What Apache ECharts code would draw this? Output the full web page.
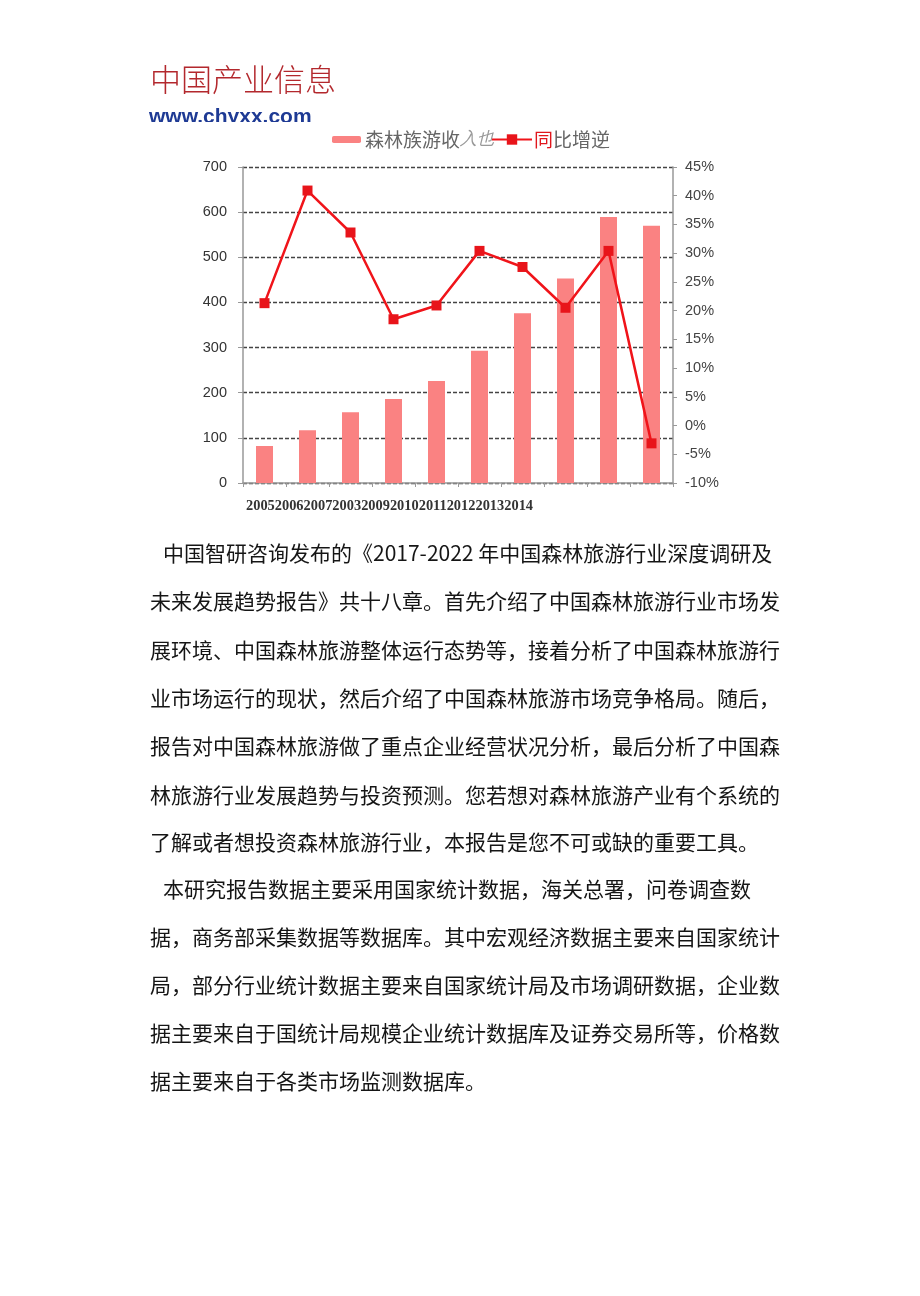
<!DOCTYPE html>
<html>
<head>
<meta charset="utf-8">
<script src="https://cdn.jsdelivr.net/npm/echarts@6/dist/echarts.min.js"></script>
<style>
html,body{margin:0;padding:0;background:#fff;}
#main{width:920px;height:1296px;}
</style>
</head>
<body>
<div id="main"></div>
<script>
// ---- data ----
var years = ['2005','2006','2007','2008','2009','2010','2011','2012','2013','2014'];
var xLabels = ['2005','2006','2007','2003','2009','2010','2011','2012','2013','2014'];
var revenue = [82, 117, 157, 186, 226, 293, 376, 453, 589, 570];
var growth = [21.3, 40.9, 33.6, 18.5, 20.9, 30.4, 27.6, 20.5, 30.4, -3.1];
var leftTicks = {min: 0, max: 700, interval: 100};
var rightTicks = {min: -10, max: 45, interval: 5};
var barName = '森林族游收入也';
var lineName = '同比增逆';
var headerTitle = '中国产业信息';
var headerUrl = 'www.chyxx.com';
var para1 = [
  '中国智研咨询发布的《2017-2022 年中国森林旅游行业深度调研及',
  '未来发展趋势报告》共十八章。首先介绍了中国森林旅游行业市场发',
  '展环境、中国森林旅游整体运行态势等，接着分析了中国森林旅游行',
  '业市场运行的现状，然后介绍了中国森林旅游市场竞争格局。随后，',
  '报告对中国森林旅游做了重点企业经营状况分析，最后分析了中国森',
  '林旅游行业发展趋势与投资预测。您若想对森林旅游产业有个系统的',
  '了解或者想投资森林旅游行业，本报告是您不可或缺的重要工具。'
];
var para2 = [
  '本研究报告数据主要采用国家统计数据，海关总署，问卷调查数',
  '据，商务部采集数据等数据库。其中宏观经济数据主要来自国家统计',
  '局，部分行业统计数据主要来自国家统计局及市场调研数据，企业数',
  '据主要来自于国统计局规模企业统计数据库及证券交易所等，价格数',
  '据主要来自于各类市场监测数据库。'
];

var chart = echarts.init(document.getElementById('main'), null, {renderer: 'canvas'});

var cjk = '"Noto Sans CJK SC", sans-serif';
var graphics = [];
graphics.push({
  type: 'text', left: 150, top: 64, z: 10,
  style: {text: headerTitle, font: '300 31px ' + cjk, fill: '#B3282D'}
});
graphics.push({
  type: 'text', x: 149, y: 107, z: 10,
  style: {text: headerUrl, font: 'bold 21px "Liberation Sans", Arial, sans-serif', fill: '#1E3A94'}
});
graphics.push({
  type: 'rect', z: 11, shape: {x: 140, y: 122, width: 200, height: 8}, style: {fill: '#fff'}
});
graphics.push({
  type: 'text', x: 246, y: 506, z: 10,
  style: {text: xLabels.join(''), font: 'bold 14.4px "Liberation Serif", "Times New Roman", serif', fill: '#333', textVerticalAlign: 'middle'}
});
var lineYs1 = [553, 601, 650, 698, 746, 795, 842];
para1.forEach(function (t, i) {
  graphics.push({
    type: 'text', x: i === 0 ? 163 : 150, y: lineYs1[i], z: 10,
    style: {text: t, font: '21px ' + cjk, fill: '#151515', textVerticalAlign: 'middle'}
  });
});
var lineYs2 = [889, 937, 985, 1033, 1081];
para2.forEach(function (t, i) {
  graphics.push({
    type: 'text', x: i === 0 ? 163 : 150, y: lineYs2[i], z: 10,
    style: {text: t, font: '21px ' + cjk, fill: '#151515', textVerticalAlign: 'middle'}
  });
});

var option = {
  backgroundColor: '#fff',
  animation: false,
  grid: {left: 243, top: 167, width: 430, height: 316, containLabel: false},
  legend: [
    {
      data: [barName], left: 327, top: 125, itemWidth: 29, itemHeight: 7, itemGap: 0,
      formatter: function () { return '{a|森林族游收}{b|入也}'; },
      textStyle: {
        fontSize: 19, color: '#666', fontFamily: cjk, padding: [0, 0, 0, -1],
        rich: {
          a: {fontSize: 19, color: '#666', fontFamily: cjk},
          b: {fontSize: 17, color: '#999', fontStyle: 'italic', fontFamily: '"Liberation Serif", serif'}
        }
      }
    },
    {
      data: [lineName], left: 486, top: 125, itemWidth: 40, itemHeight: 13, itemGap: 0,
      formatter: function () { return '{r|同}{g|比增逆}'; },
      textStyle: {
        fontSize: 19, color: '#666', fontFamily: cjk, padding: [0, 0, 0, -3],
        rich: {
          r: {fontSize: 19, color: '#E0161C', fontFamily: cjk},
          g: {fontSize: 19, color: '#666', fontFamily: cjk}
        }
      }
    }
  ],
  xAxis: {
    type: 'category', data: years, boundaryGap: true,
    axisLine: {lineStyle: {color: '#999', width: 1.5}},
    axisTick: {show: true, alignWithLabel: false, length: 4, lineStyle: {color: '#999'}},
    axisLabel: {show: false},
    splitLine: {show: false}
  },
  yAxis: [
    {
      type: 'value', min: leftTicks.min, max: leftTicks.max, interval: leftTicks.interval,
      axisLine: {show: true, lineStyle: {color: '#999', width: 1.5}},
      axisTick: {show: true, length: 5, lineStyle: {color: '#999'}},
      axisLabel: {margin: 16, fontSize: 14.5, color: '#333', fontFamily: '"Liberation Sans", Arial, sans-serif'},
      splitLine: {show: true, lineStyle: {color: '#444', width: 1.3, type: [4, 2]}}
    },
    {
      type: 'value', min: rightTicks.min, max: rightTicks.max, interval: rightTicks.interval,
      position: 'right',
      axisLine: {show: true, lineStyle: {color: '#999', width: 1.5}},
      axisTick: {show: true, length: 4, lineStyle: {color: '#999'}},
      axisLabel: {margin: 12, fontSize: 14.5, color: '#444', fontFamily: '"Liberation Sans", Arial, sans-serif', formatter: '{value}%'},
      splitLine: {show: false}
    }
  ],
  series: [
    {
      name: barName, type: 'bar', data: revenue, yAxisIndex: 0,
      barWidth: 17,
      itemStyle: {color: '#FA8282'}
    },
    {
      name: lineName, type: 'line', data: growth, yAxisIndex: 1,
      symbol: 'rect', symbolSize: 10,
      lineStyle: {color: '#F0141A', width: 2.5},
      itemStyle: {color: '#E8141A'},
      z: 5
    }
  ],
  graphic: graphics
};
chart.setOption(option);
</script>
</body>
</html>
